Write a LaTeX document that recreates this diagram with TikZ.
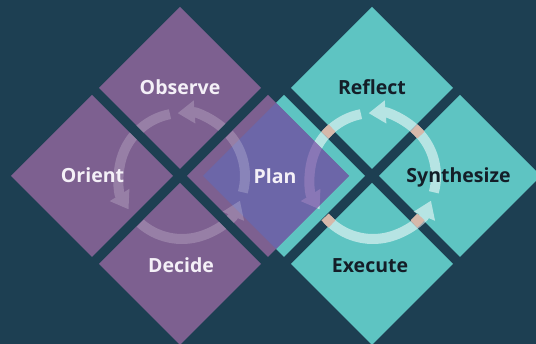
\documentclass[tikz,border=0pt]{standalone}
\usepackage{fontspec}
\setmainfont{Open Sans}
\usetikzlibrary{arrows.meta}
\definecolor{bgc}{RGB}{29,63,82}
\definecolor{purp}{RGB}{125,96,144}
\definecolor{tealc}{RGB}{94,196,194}
\definecolor{slate}{RGB}{108,102,168}
\definecolor{tanc}{RGB}{214,184,170}
\definecolor{lilac}{RGB}{205,160,215}
\definecolor{lighttxt}{RGB}{244,240,247}
\definecolor{darktxt}{RGB}{20,30,40}
\newcommand\mydia[2]{(#1,#2+81) -- (#1+81,#2) -- (#1,#2-81) -- (#1-81,#2) -- cycle}
\newcommand\myring[2]{%
  \draw[ring] (#1,#2) ++(-15:63) arc[start angle=-15,end angle=94,radius=63];
  \draw[ring] (#1,#2) ++(101:63) arc[start angle=101,end angle=212,radius=63];
  \draw[ring] (#1,#2) ++(224:63) arc[start angle=224,end angle=337,radius=63];}
\begin{document}
\begin{tikzpicture}[x=1pt,y=1pt,
  lbl/.style={font=\fontsize{19.5}{22}\selectfont\bfseries, inner sep=0pt, anchor=base},
  ring/.style={line width=10pt, -{Triangle[width=22pt,length=17pt]}},
  tanpatch/.style={draw=tanc, line width=10pt}]
\fill[bgc] (0,0) rectangle (536,344);
\useasboundingbox (0,0) rectangle (536,344);
% right group (teal)
\fill[tealc] \mydia{372}{256} \mydia{460}{168} \mydia{372}{80} \mydia{284}{168};
% right ring
\begin{scope}[transparency group, opacity=0.55]
  \begin{scope}[white]
    \myring{373}{168}
  \end{scope}
\end{scope}
\foreach \a in {45,135,225,315}{
  \draw[tanpatch] (373,168) ++(\a-4.5:63) arc[start angle=\a-4.5,end angle=\a+4.5,radius=63];}
% left group (purple) incl. Plan
\fill[purp] \mydia{180}{256} \mydia{92}{168} \mydia{180}{80} \mydia{268}{168};
\fill[slate] (203,168) -- (276,241) -- (349,168) -- (276,95) -- cycle;
% right ring seen faintly through Plan
\begin{scope}
  \clip \mydia{268}{168};
  \begin{scope}[transparency group, opacity=0.3]
    \begin{scope}[lilac]
      \myring{373}{168}
    \end{scope}
  \end{scope}
\end{scope}
% left ring
\begin{scope}
  \clip \mydia{180}{256} \mydia{92}{168} \mydia{180}{80} \mydia{268}{168};
  \begin{scope}[transparency group, opacity=0.2]
    \begin{scope}[white]
      \myring{182}{168}
    \end{scope}
  \end{scope}
\end{scope}
% labels
\node[lbl, text=lighttxt] (observe) at (180,249.5) {Observe};
\node[lbl, text=lighttxt] (orient) at (92.5,161.5) {Orient};
\node[lbl, text=lighttxt] (decide) at (181,71.5) {Decide};
\node[lbl, text=lighttxt] (plan) at (275,160.5) {Plan};
\node[lbl, text=darktxt] (reflect) at (372,249.5) {Reflect};
\node[lbl, text=darktxt] (synth) at (458.5,161) {Synthesize};
\node[lbl, text=darktxt] (execute) at (370,71.5) {Execute};
\end{tikzpicture}
\end{document}
